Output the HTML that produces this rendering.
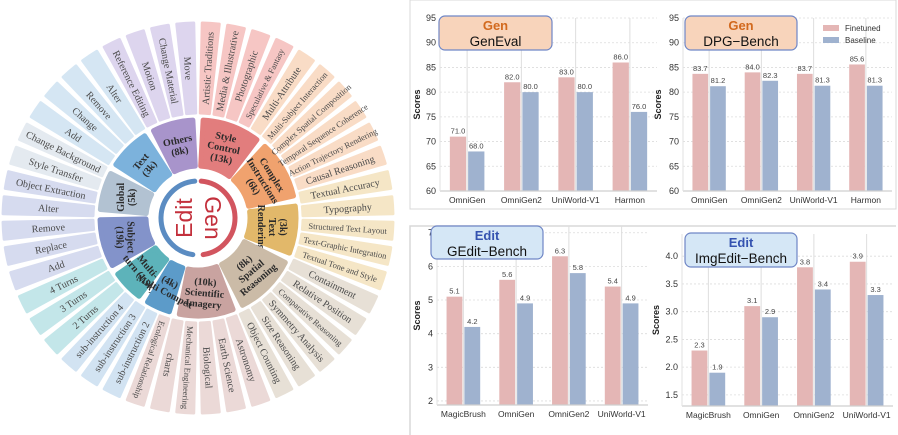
<!DOCTYPE html>
<html><head><meta charset="utf-8"><style>
html,body{margin:0;padding:0;background:#fff;width:898px;height:435px;overflow:hidden}
svg{display:block}
text{font-family:"Liberation Sans",sans-serif}
.serif{font-family:"Liberation Serif",serif}
</style></head><body>
<svg id="root" width="898" height="435" viewBox="0 0 898 435">
<g id="sun"></g>
<rect x="410" y="0" width="486" height="209" fill="none" stroke="#d8d8d8" stroke-width="1"/>
<path d="M410 435 L410 226 L896 226" fill="none" stroke="#d8d8d8" stroke-width="1.5"/>
<g id="charts"></g>
</svg>
<script>
const NS="http://www.w3.org/2000/svg";
function mk(tag,attrs,parent){const e=document.createElementNS(NS,tag);for(const k in attrs)e.setAttribute(k,attrs[k]);parent.appendChild(e);return e;}

// ---------- Sunburst ----------
const genGroups=["Style|Control|(13k)","Complex|Instructions|(6k)","(3k)|Text|Rendering","(8k)|Spatial|Reasoning","(10k)|Scientific|Imagery"];
const genGroupSpans=[40,40,34,42,38];
const genGroupColors=["#e27d7d","#f0a26e","#e2b86a","#cbbba7","#c9a3a0"];
const genLeafColors=["#f6c6c4","#f9dcc6","#f5e6c6","#e7e0d6","#ebd9d7"];
const genLeaves=[
["Artistic Traditions","Media & Illustrative","Photographic","Speculative & Fantasy"],
["Multi-Attribute","Multi-Subject Interaction","Complex Spatial Composition","Temporal Sequence Coherence","Action Trajectory Rendering","Causal Reasoning"],
["Textual Accuracy","Typography","Structured Text Layout","Text-Graphic Integration","Textual Tone and Style"],
["Containment","Relative Position","Comparative Reasoning","Symmetry Analysis","Size Reasoning","Object Counting"],
["Astronomy","Earth Science","Biological","Mechanical Engineering","charts","Ecological Relationship"]];
const editGroups=["Others|(8k)","Text|(3k)","Global|(5k)","Subject|(19k)","Multi-|turn (1.5k)","(4k)|Multi Compex"];
const editGroupSpans=[30,30,28,34,24,20];
const editGroupColors=["#a894cb","#7cb2dc","#b2c2d2","#8393ca","#5db3ba","#5c9bc9"];
const editLeafColors=["#ddd5ee","#d5e6f3","#e4eaf0","#d6dbef","#c3e6e9","#d2e3f2"];
const editLeaves=[
["Move","Change Material","Motion","Reference Editing"],
["Alter","Remove","Change","Add"],
["Change Background","Style Transfer"],
["Object Extraction","Alter","Remove","Replace","Add"],
["4 Turns","3 Turns","2 Turns"],
["sub-instruction 4","sub-instruction 3","sub-instruction 2"]];
const genGroupRot=[12,58,90,-40,5];
const editGroupRot=[-12,-50,-90,90,50,28];

const CX=198,CY=218,STEP=7.5;
const sun=document.getElementById('sun');
function pt(r,a){const t=a*Math.PI/180;return [CX+r*Math.sin(t),CY-r*Math.cos(t)];}
function sector(r0,r1,a0,a1){
  const p1=pt(r0,a0),p2=pt(r1,a0),p3=pt(r1,a1),p4=pt(r0,a1);
  const lg=Math.abs(a1-a0)>180?1:0, sw=a1>a0?1:0;
  return `M${p1} L${p2} A${r1} ${r1} 0 ${lg} ${sw} ${p3} L${p4} A${r0} ${r0} 0 ${lg} ${1-sw} ${p1} Z`;
}
function drawSide(groups,spans,gcols,lcols,leaves,rots,dir,gen){
  let idx=0,acc=0;
  groups.forEach((g,gi)=>{
    const start=acc*dir, end=(acc+spans[gi])*dir;
    acc+=spans[gi];
    const n=leaves[gi].length;
    const seg=mk('path',{d:sector(52,98,start+dir*3,end-dir*3),fill:gcols[gi],stroke:gcols[gi],'stroke-width':5,'stroke-linejoin':'round'},sun);
    
    
    const mid=(start+end)/2;const c=pt(75,mid);
    const lines=g.split('|');
    const tg=mk('text',{x:c[0],y:c[1],transform:`rotate(${rots[gi]} ${c[0]} ${c[1]})`,'text-anchor':'middle','font-size':10,'font-weight':'bold',fill:'#2a2a2a',class:'serif'},sun);
    
    
    lines.forEach((l,li)=>{const ts=mk('tspan',{x:c[0],dy:li==0?(-(lines.length-1)*5.5+3.5):11},tg);ts.textContent=l;});
    leaves[gi].forEach((lf,li)=>{
      const a=(idx+li+0.5)*STEP*dir;
      const p=mk('path',{d:sector(105,195,a-2.5,a+2.5),fill:lcols[gi],stroke:lcols[gi],'stroke-width':3,'stroke-linejoin':'round'},sun);
      
      
      const q=pt(150,a);
      const rot=gen?a-90:a+90;
      const t=mk('text',{x:q[0],y:q[1]+3.5,transform:`rotate(${rot} ${q[0]} ${q[1]})`,'text-anchor':'middle','font-size':lf.length>20?8.5:10,fill:'#4a4a4a',class:'serif'},sun);
      
      
      t.textContent=lf;
    });
    idx+=n;
  });
}
drawSide(genGroups,genGroupSpans,genGroupColors,genLeafColors,genLeaves,genGroupRot,1,true);
drawSide(editGroups,editGroupSpans,editGroupColors,editLeafColors,editLeaves,editGroupRot,-1,false);
(function(){
  const a=mk('path',{d:`M${pt(37,-5)} A37 37 0 0 0 ${pt(37,-172)}`,fill:'none',stroke:'#5b8cc2','stroke-width':5,'stroke-linecap':'round'},sun);
  
  const b=mk('path',{d:`M${pt(37,5)} A37 37 0 0 1 ${pt(37,172)}`,fill:'none',stroke:'#d2555f','stroke-width':5,'stroke-linecap':'round'},sun);
  
  const e=mk('text',{x:186,y:CY,transform:`rotate(-90 186 ${CY})`,'text-anchor':'middle','font-size':23,fill:'#c3303c','dominant-baseline':'middle'},sun);
  e.textContent='Edit';
  const g=mk('text',{x:211,y:CY,transform:`rotate(90 211 ${CY})`,'text-anchor':'middle','font-size':23,fill:'#c3303c','dominant-baseline':'middle'},sun);
  g.textContent='Gen';
})();

// ---------- Charts ----------
const genevalCats=["OmniGen","OmniGen2","UniWorld-V1","Harmon"];
const genevalFinetuned=[71.0,82.0,83.0,86.0];
const genevalBaseline=[68.0,80.0,80.0,76.0];
const genevalTicks=[60,65,70,75,80,85,90,95];
const dpgCats=["OmniGen","OmniGen2","UniWorld-V1","Harmon"];
const dpgFinetuned=[83.7,84.0,83.7,85.6];
const dpgBaseline=[81.2,82.3,81.3,81.3];
const dpgTicks=[60,65,70,75,80,85,90,95];
const geditCats=["MagicBrush","OmniGen","OmniGen2","UniWorld-V1"];
const geditFinetuned=[5.1,5.6,6.3,5.4];
const geditBaseline=[4.2,4.9,5.8,4.9];
const geditTicks=[2,3,4,5,6,7];
const imgeditCats=["MagicBrush","OmniGen","OmniGen2","UniWorld-V1"];
const imgeditFinetuned=[2.3,3.1,3.8,3.9];
const imgeditBaseline=[1.9,2.9,3.4,3.3];
const imgeditTicks=["1.5","2.0","2.5","3.0","3.5","4.0"];

const charts=document.getElementById('charts');
function chart(o){
  const g=mk('g',{},charts);
  
  
  const y=v=>o.y1-(v-o.ymin)/(o.ymax-o.ymin)*(o.y1-o.y0);
  const step=(o.x1-o.x0)/o.cats.length;
  const xc=i=>o.x0+(i+0.5)*step;
  const bw=step*0.3;
  o.ticks.forEach(t=>{
    const v=parseFloat(t),yy=y(v);
    const l=mk('line',{x1:o.x0,x2:o.x1,y1:yy,y2:yy,stroke:'#dcdcdc','stroke-width':0.8,'stroke-dasharray':'2,2'},g);
    
    const tl=mk('text',{x:o.x0-4,y:yy+3,'text-anchor':'end','font-size':9,fill:'#333'},g);
    
    tl.textContent=t;
  });
  o.cats.forEach((c,i)=>{
    const vl=mk('line',{x1:xc(i),x2:xc(i),y1:o.y0,y2:o.y1,stroke:'#dedede','stroke-width':1},g);
    
    const fx=xc(i)-bw-1,bx=xc(i)+1;
    const fb=mk('rect',{x:fx,y:y(o.fin[i]),width:bw,height:o.y1-y(o.fin[i]),fill:'#e4b6b5'},g);
    
    const bb=mk('rect',{x:bx,y:y(o.base[i]),width:bw,height:o.y1-y(o.base[i]),fill:'#9fb2cf'},g);
    
    const ft=mk('text',{x:fx+bw/2,y:y(o.fin[i])-3,'text-anchor':'middle','font-size':7.5,fill:'#444'},g);
    
    ft.textContent=o.fin[i].toFixed(1);
    const bt=mk('text',{x:bx+bw/2,y:y(o.base[i])-3,'text-anchor':'middle','font-size':7.5,fill:'#444'},g);
    
    bt.textContent=o.base[i].toFixed(1);
    const cl=mk('text',{x:xc(i),y:o.y1+12,'text-anchor':'middle','font-size':8.5,fill:'#333'},g);
    
    cl.textContent=c;
  });
  const ax=mk('line',{x1:o.x0,x2:o.x1,y1:o.y1,y2:o.y1,stroke:'#cfcfcf','stroke-width':1.2},g);
  
  const ay=mk('line',{x1:o.x0,x2:o.x0,y1:o.y0,y2:o.y1,stroke:'#e2e2e2','stroke-width':1},g);
  
  const yl=mk('text',{x:o.ylx,y:(o.y0+o.y1)/2,transform:`rotate(-90 ${o.ylx} ${(o.y0+o.y1)/2})`,'text-anchor':'middle','font-size':9,'font-weight':'bold',fill:'#222'},g);
  
  yl.textContent='Scores';
  const b=o.box;
  const r=mk('rect',{x:b[0],y:b[1],width:b[2],height:b[3],rx:6,fill:o.gen?'#f8d4bb':'#d5e7f6',stroke:'#6f86c6','stroke-width':1.2},g);
  
  const t1=mk('text',{x:b[0]+b[2]/2,y:b[1]+14,'text-anchor':'middle','font-size':13,'font-weight':'bold',fill:o.gen?'#d2691e':'#3553b0'},g);
  
  t1.textContent=o.gen?'Gen':'Edit';
  const t2=mk('text',{x:b[0]+b[2]/2,y:b[1]+30,'text-anchor':'middle','font-size':13.5,fill:'#111'},g);
  
  t2.textContent=o.title;
  return g;
}
chart({name:'geneval-chart',cats:genevalCats,fin:genevalFinetuned,base:genevalBaseline,ticks:genevalTicks,ymin:60,ymax:95,x0:440,x1:657,y0:18,y1:191,ylx:420,box:[439,16,113,34],gen:true,title:'GenEval'});
const dpg=chart({name:'dpg-bench-chart',cats:dpgCats,fin:dpgFinetuned,base:dpgBaseline,ticks:dpgTicks,ymin:60,ymax:95,x0:683,x1:892,y0:18,y1:191,ylx:661,box:[685,16,112,34],gen:true,title:'DPG\u2212Bench'});
chart({name:'gedit-bench-chart',cats:geditCats,fin:geditFinetuned,base:geditBaseline,ticks:geditTicks,ymin:1.88,ymax:7.2,x0:437,x1:648,y0:226,y1:405,ylx:420,box:[431,226,112,33],gen:false,title:'GEdit\u2212Bench'});
chart({name:'imgedit-bench-chart',cats:imgeditCats,fin:imgeditFinetuned,base:imgeditBaseline,ticks:imgeditTicks,ymin:1.3,ymax:4.4,x0:682,x1:893,y0:234,y1:406,ylx:659,box:[685,233,112,34],gen:false,title:'ImgEdit\u2212Bench'});
(function(){
  const lg=mk('g',{},dpg);
  
  const items=[['Finetuned','#e4b6b5',29],['Baseline','#9fb2cf',41]];
  items.forEach(it=>{
    const s=mk('rect',{x:823,y:it[2]-4,width:16,height:6,fill:it[1]},lg);
    
    const t=mk('text',{x:845,y:it[2]+2,'font-size':8,fill:'#333'},lg);
    
    t.textContent=it[0];
  });
})();
</script>
</body></html>
